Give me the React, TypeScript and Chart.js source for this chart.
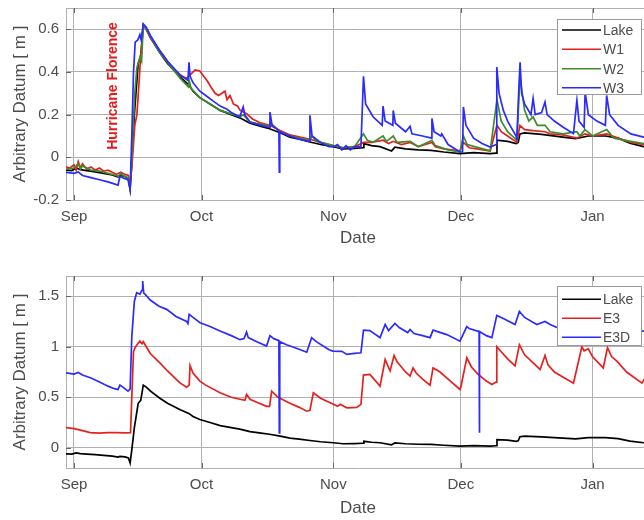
import React, { useEffect, useRef } from "react";
import { Chart, registerables } from "chart.js";

Chart.register(...registerables);

type Pt = [number, number];

// x = days since 1 September
const MONTH_DAYS = [0, 30, 61, 91, 122];
const MONTH_LABELS = ["Sep", "Oct", "Nov", "Dec", "Jan"];
const TOP_Y_TICKS = [-0.2, 0, 0.2, 0.4, 0.6];
const BOTTOM_Y_TICKS = [0, 0.5, 1, 1.5];
const TOP_LABELS = ["Lake", "W1", "W2", "W3"];
const BOTTOM_LABELS = ["Lake", "E3", "E3D"];
const Y_TITLE = "Arbitrary Datum [ m ]";
const X_TITLE = "Date";
const ANNOTATION = "Hurricane Florence";

const LAKE: Pt[] = [
  [-1.9, -0.06], [-0.5, -0.062], [0.5, -0.05], [1.5, -0.058], [3, -0.062], [5, -0.068], [7, -0.075],
  [9, -0.083], [10.4, -0.092], [10.8, -0.085], [12, -0.09], [12.8, -0.1], [13.2, -0.15], [13.6, -0.02],
  [14.2, 0.2], [15.1, 0.44], [15.7, 0.47], [16.3, 0.62], [17, 0.6], [18, 0.56], [20.2, 0.49], [22, 0.44],
  [25, 0.376], [27, 0.34], [28, 0.31], [29.6, 0.28], [32, 0.25], [34.4, 0.22], [37, 0.2], [39, 0.185],
  [41.4, 0.16], [44, 0.145], [46, 0.134], [48.5, 0.115], [50.8, 0.095], [53, 0.085], [55.5, 0.072],
  [58, 0.06], [61, 0.05], [63.3, 0.04], [66, 0.042], [68, 0.045], [68.2, 0.064], [70, 0.055], [72, 0.05],
  [74.7, 0.03], [75.5, 0.048], [78, 0.04], [81, 0.035], [84, 0.033], [87, 0.025], [90.8, 0.017],
  [94, 0.022], [97.9, 0.017], [99.3, 0.02], [99.5, 0.08], [102, 0.075], [104, 0.064], [104.5, 0.07],
  [104.9, 0.11], [106, 0.115], [110, 0.108], [115, 0.095], [118, 0.088], [121, 0.1], [125, 0.1],
  [128, 0.09], [130.8, 0.066], [134, 0.05], [136, 0.045],
];

const W1: Pt[] = [
  [-1.9, -0.045], [-1, -0.05], [0, -0.035], [0.5, -0.06], [1, -0.02], [1.5, -0.05], [2, -0.03],
  [3, -0.055], [4, -0.045], [5, -0.06], [6, -0.05], [7, -0.065], [8, -0.06], [9, -0.07], [10, -0.08],
  [10.5, -0.075], [11, -0.07], [12, -0.08], [12.8, -0.085], [13.2, -0.13], [13.6, -0.05], [14.3, 0.15],
  [14.8, 0.2], [15.3, 0.35], [15.6, 0.45], [16.3, 0.62], [17, 0.6], [18, 0.56], [20.2, 0.5], [22, 0.45],
  [24, 0.4], [25.5, 0.38], [26.5, 0.37], [27.5, 0.39], [28.5, 0.41], [29.6, 0.405], [30.5, 0.38],
  [31.3, 0.36], [32.2, 0.33], [33.2, 0.3], [34, 0.29], [35.5, 0.31], [36, 0.27], [36.7, 0.29],
  [37.5, 0.25], [38.5, 0.24], [39.1, 0.22], [40.6, 0.205], [42, 0.18], [44, 0.16], [46.1, 0.15],
  [48, 0.13], [50.8, 0.105], [55.5, 0.085], [58, 0.07], [61, 0.055], [63.3, 0.045], [66, 0.05],
  [68.1, 0.07], [70, 0.07], [72.7, 0.08], [74, 0.065], [75.1, 0.075], [77, 0.06], [79.1, 0.07],
  [81, 0.05], [84.2, 0.07], [85, 0.05], [87, 0.04], [90.8, 0.03], [91.6, 0.07], [93, 0.045],
  [97.9, 0.03], [99.5, 0.15], [100.5, 0.12], [102, 0.1], [104.2, 0.07], [104.9, 0.15], [106, 0.13],
  [108, 0.125], [110.8, 0.12], [112, 0.11], [115, 0.105], [118.3, 0.09], [120.2, 0.11], [122, 0.1],
  [125.3, 0.11], [128, 0.09], [131, 0.07], [134, 0.06], [136, 0.055],
];

const W2: Pt[] = [
  [-1.9, -0.055], [0, -0.05], [1, -0.03], [1.5, -0.055], [2, -0.04], [4, -0.06], [6, -0.065],
  [8, -0.075], [10, -0.085], [10.5, -0.09], [11, -0.075], [11.5, -0.085], [12.7, -0.095], [13.2, -0.14],
  [13.6, 0], [14.3, 0.3], [14.8, 0.42], [15.5, 0.47], [15.9, 0.45], [16.3, 0.62], [17, 0.6],
  [20.2, 0.49], [25, 0.37], [26.9, 0.33], [27.1, 0.36], [27.5, 0.325], [29.6, 0.28], [34.4, 0.22],
  [39.1, 0.19], [39.8, 0.2], [41.4, 0.165], [46.1, 0.145], [46.3, 0.16], [48.5, 0.12], [50.8, 0.1],
  [55.5, 0.08], [56, 0.1], [57, 0.075], [61, 0.055], [63.3, 0.045], [66, 0.05], [68.1, 0.11],
  [69, 0.08], [70.3, 0.07], [72.7, 0.1], [73.5, 0.075], [75.1, 0.1], [76, 0.07], [79.1, 0.075],
  [81, 0.05], [84.2, 0.08], [85, 0.055], [88, 0.035], [90.8, 0.025], [91.6, 0.1], [92.5, 0.06],
  [97.9, 0.03], [99.5, 0.27], [100.5, 0.17], [102, 0.12], [104.2, 0.08], [104.9, 0.38], [106, 0.22],
  [107, 0.17], [108, 0.19], [109, 0.15], [110.8, 0.15], [112, 0.12], [115, 0.11], [118.3, 0.12],
  [119, 0.1], [120.2, 0.13], [122, 0.1], [125.3, 0.13], [127, 0.09], [131, 0.075], [134, 0.065],
  [136, 0.06],
];

const W3: Pt[] = [
  [-1.9, -0.07], [0, -0.075], [1, -0.068], [2, -0.085], [4, -0.095], [6, -0.105], [8, -0.115],
  [10.35, -0.13], [10.8, -0.09], [12, -0.1], [12.7, -0.105], [13.2, -0.15], [13.6, 0.1], [14, 0.4],
  [14.4, 0.54], [15, 0.55], [15.5, 0.575], [15.8, 0.55], [16.3, 0.625], [17, 0.61], [18, 0.57],
  [20.2, 0.5], [22, 0.45], [25, 0.385], [26.8, 0.36], [27.06, 0.445], [27.3, 0.38], [28, 0.35],
  [29.6, 0.31], [31, 0.29], [33, 0.26], [34.4, 0.24], [36, 0.225], [37, 0.21], [39, 0.19],
  [39.8, 0.236], [40.2, 0.2], [41.4, 0.165], [44, 0.15], [46, 0.14], [46.1, 0.212], [46.6, 0.15],
  [48.2, 0.125], [48.3, -0.069], [48.4, 0.12], [50.8, 0.1], [53, 0.085], [55.3, 0.075], [55.5, 0.197],
  [56, 0.1], [58, 0.07], [60, 0.05], [61, 0.05], [62, 0.06], [63, 0.035], [64, 0.055], [65, 0.035],
  [66, 0.05], [67.5, 0.05], [68.1, 0.38], [68.6, 0.25], [70.35, 0.19], [72.5, 0.15], [72.7, 0.24],
  [73.2, 0.17], [75, 0.15], [75.1, 0.22], [75.6, 0.16], [78, 0.12], [79.06, 0.145], [79.5, 0.11],
  [82, 0.1], [84.1, 0.09], [84.2, 0.182], [84.7, 0.12], [86.3, 0.1], [86.5, 0.11], [88, 0.06],
  [90.8, 0.025], [91.4, 0.025], [91.6, 0.236], [92.2, 0.15], [94, 0.09], [96, 0.065], [97.9, 0.048],
  [99.3, 0.06], [99.46, 0.423], [100, 0.3], [101, 0.22], [102, 0.17], [104, 0.1], [104.16, 0.08],
  [104.6, 0.3], [104.94, 0.446], [105.3, 0.3], [106, 0.25], [107.5, 0.2], [108, 0.276], [108.5, 0.2],
  [110, 0.21], [110.8, 0.259], [111.3, 0.2], [113, 0.17], [115, 0.142], [117.5, 0.111], [118.3, 0.267],
  [118.8, 0.17], [120, 0.14], [120.24, 0.306], [121, 0.2], [123, 0.17], [125, 0.15], [125.3, 0.29],
  [126, 0.2], [128, 0.15], [131, 0.11], [134, 0.095], [136, 0.09],
];

const E3: Pt[] = [
  [-1.9, 0.2], [0, 0.19], [2, 0.17], [3.8, 0.15], [6, 0.145], [8, 0.15], [10, 0.15], [12, 0.148],
  [13.3, 0.15], [13.6, 0.5], [14, 0.95], [14.35, 0.99], [15, 1.03], [15.5, 1.055], [16, 1.03],
  [16.3, 1.05], [17, 1.0], [18, 0.93], [20.2, 0.84], [22, 0.76], [24, 0.68], [25, 0.64], [26.5, 0.6],
  [27.1, 0.62], [27.3, 0.815], [28, 0.74], [29.6, 0.66], [31, 0.62], [34.35, 0.545], [37, 0.5],
  [39.06, 0.48], [40.2, 0.47], [40.6, 0.528], [41.4, 0.48], [43, 0.45], [45.3, 0.41], [46, 0.41],
  [46.5, 0.56], [48, 0.5], [50.8, 0.44], [53, 0.4], [54.75, 0.362], [55.5, 0.37], [56.3, 0.545],
  [58, 0.49], [60, 0.45], [61, 0.43], [62, 0.41], [62.6, 0.43], [64.2, 0.396], [66.5, 0.4],
  [67.5, 0.43], [68.1, 0.72], [69.6, 0.726], [72, 0.61], [73.2, 0.874], [74.35, 0.76], [75.3, 0.914],
  [76, 0.85], [78, 0.75], [79.06, 0.71], [79.76, 0.79], [80.5, 0.74], [82, 0.68], [83.76, 0.62],
  [84.47, 0.79], [86.1, 0.75], [88, 0.68], [90.8, 0.577], [91, 0.6], [92.4, 0.89], [93.5, 0.8],
  [95, 0.73], [97, 0.66], [98.3, 0.627], [99.3, 0.65], [99.46, 1.0], [100.5, 0.95], [102, 0.88],
  [103.76, 0.81], [104.78, 1.02], [106, 0.92], [108, 0.84], [109.65, 0.775], [110.8, 0.914],
  [111.5, 0.82], [113, 0.75], [115, 0.7], [117.5, 0.64], [119.46, 1.0], [120, 0.96], [121, 0.98],
  [122, 0.9], [124.5, 0.79], [125.5, 0.99], [126.5, 0.9], [127.7, 0.857], [130, 0.75], [133.6, 0.64],
  [134.5, 0.7], [136, 0.8],
];

const E3D: Pt[] = [
  [-1.9, 0.742], [0, 0.73], [1, 0.745], [2, 0.72], [4, 0.69], [6, 0.65], [8, 0.61], [9.5, 0.585],
  [10.35, 0.577], [10.8, 0.62], [11.5, 0.6], [12.7, 0.56], [13.2, 0.58], [13.6, 1.1], [14.2, 1.45],
  [14.75, 1.535], [15.5, 1.52], [16, 1.56], [16.16, 1.65], [16.4, 1.53], [16.7, 1.52], [18, 1.46],
  [20, 1.4], [21.8, 1.37], [24, 1.3], [26.5, 1.25], [26.8, 1.23], [27.1, 1.32], [28, 1.29],
  [29.65, 1.238], [32, 1.2], [34.35, 1.155], [37, 1.11], [39.06, 1.07], [40, 1.08], [40.6, 1.145],
  [41, 1.09], [43, 1.05], [45.3, 1.006], [46.1, 1.11], [47, 1.08], [48.2, 1.06], [48.3, 0.148],
  [48.4, 1.05], [50, 1.02], [52, 0.99], [54.75, 0.946], [55.9, 1.09], [57, 1.05], [60, 0.97],
  [60.9, 0.957], [63, 0.955], [64.2, 0.924], [66, 0.935], [67.5, 0.94], [68.1, 1.165], [69.6, 1.16],
  [72, 1.09], [73.2, 1.22], [74, 1.16], [75.5, 1.23], [76.5, 1.19], [78.5, 1.14], [79.06, 1.17],
  [80, 1.13], [82, 1.11], [83.76, 1.09], [84.47, 1.165], [85.5, 1.15], [87.7, 1.12], [90.8, 1.055],
  [92.4, 1.2], [93, 1.18], [95.3, 1.15], [95.36, 0.148], [95.42, 1.15], [97, 1.11], [98.3, 1.09],
  [99.46, 1.31], [101, 1.28], [103.76, 1.22], [104.78, 1.35], [106, 1.29], [108.87, 1.22],
  [110.8, 1.25], [112, 1.22], [113.6, 1.19], [115, 1.17], [117.5, 1.13], [119.5, 1.3], [121, 1.25],
  [124, 1.18], [125.5, 1.28], [128, 1.2], [131, 1.16], [134, 1.155], [136, 1.15],
];

const X_MIN = -1.88;
const X_MAX = 135.5;
const FONT = "'Liberation Sans', Arial, Helvetica, sans-serif";
const TEXT = "#4d4d4d";
const GRID = "#b0b0b0";
const COL_LAKE = "#000000";
const COL_RED = "#e5201e";
const COL_GREEN = "#3e8c2c";
const COL_BLUE = "#2b2bff";

type PanelProps = {
  series: Pt[][];
  labels: string[];
  colors: string[];
  yMin: number;
  yMax: number;
  yTicks: number[];
  padTop: number;
  xAxisHeight: number;
  titlePadBottom: number;
  legendBox: [number, number, number, number];
  legendRows: number[];
  annotation?: boolean;
};

function Panel(p: PanelProps) {
  const ref = useRef<HTMLCanvasElement | null>(null);
  useEffect(() => {
    if (!ref.current) return;
    const n = p.series.length;
    const datasets = p.series.map((s, i) => ({
      label: p.labels[i],
      data: s.map(([x, y]) => ({ x, y })),
      borderColor: p.colors[i],
      backgroundColor: p.colors[i],
      borderWidth: 1.7,
      pointRadius: 0,
      tension: 0,
      fill: false,
      order: n - 1 - i,
    }));
    const overlay = {
      id: "overlay",
      afterDatasetsDraw(chart: any) {
        const { ctx, chartArea: a } = chart;
        ctx.save();
        // top frame line
        ctx.strokeStyle = GRID;
        ctx.lineWidth = 1;
        ctx.beginPath();
        ctx.moveTo(a.left, Math.round(a.top) + 0.5);
        ctx.lineTo(a.right, Math.round(a.top) + 0.5);
        ctx.stroke();
        // inward tick marks
        ctx.strokeStyle = "#666";
        const ys = chart.scales.y;
        p.yTicks.forEach((v) => {
          const py = Math.round(ys.getPixelForValue(v)) + 0.5;
          ctx.beginPath();
          ctx.moveTo(a.left, py);
          ctx.lineTo(a.left + 5, py);
          ctx.stroke();
        });
        const xs = chart.scales.x;
        MONTH_DAYS.forEach((v) => {
          const px = Math.round(xs.getPixelForValue(v)) + 0.5;
          ctx.beginPath();
          ctx.moveTo(px, a.bottom);
          ctx.lineTo(px, a.bottom - 5);
          ctx.moveTo(px, a.top);
          ctx.lineTo(px, a.top + 5);
          ctx.stroke();
        });
        // legend
        const [lx, ly, lw, lh] = p.legendBox;
        ctx.fillStyle = "#ffffff";
        ctx.fillRect(lx, ly, lw, lh);
        ctx.strokeStyle = "#9a9a9a";
        ctx.lineWidth = 1;
        ctx.strokeRect(lx + 0.5, ly + 0.5, lw, lh);
        ctx.font = `14px ${FONT}`;
        ctx.textBaseline = "middle";
        ctx.textAlign = "left";
        p.labels.forEach((lab, i) => {
          const ry = p.legendRows[i];
          ctx.strokeStyle = p.colors[i];
          ctx.lineWidth = 1.5;
          ctx.beginPath();
          ctx.moveTo(lx + 5, ry);
          ctx.lineTo(lx + 44, ry);
          ctx.stroke();
          ctx.fillStyle = TEXT;
          ctx.fillText(lab, lx + 46, ry + 1);
        });
        if (p.annotation) {
          ctx.translate(113, 86);
          ctx.rotate(-Math.PI / 2);
          ctx.font = `bold 14px ${FONT}`;
          ctx.fillStyle = "#e8191b";
          ctx.textAlign = "center";
          ctx.textBaseline = "middle";
          ctx.fillText(ANNOTATION, 0, 0);
        }
        ctx.restore();
      },
    };
    const chart = new Chart(ref.current, {
      type: "line",
      data: { datasets },
      plugins: [overlay],
      options: {
        responsive: false,
        animation: false,
        events: [],
        layout: { padding: { top: p.padTop, left: 0, right: 10, bottom: 0 } },
        plugins: { legend: { display: false }, tooltip: { enabled: false } },
        scales: {
          x: {
            type: "linear",
            min: X_MIN,
            max: X_MAX,
            afterBuildTicks: (s: any) => {
              s.ticks = MONTH_DAYS.map((v) => ({ value: v }));
            },
            afterFit: (s: any) => {
              s.height = p.xAxisHeight;
              s.paddingLeft = 0;
              s.paddingRight = 0;
            },
            ticks: {
              autoSkip: false,
              maxRotation: 0,
              padding: 8,
              color: TEXT,
              font: { family: FONT, size: 15 },
              callback: (_v: any, i: number) => MONTH_LABELS[i],
            },
            grid: { color: GRID, lineWidth: 1, drawTicks: false },
            border: { color: GRID, width: 1 },
            title: {
              display: true,
              text: X_TITLE,
              color: TEXT,
              font: { family: FONT, size: 17 },
              padding: { top: 0, bottom: p.titlePadBottom },
            },
          },
          y: {
            type: "linear",
            min: p.yMin,
            max: p.yMax,
            afterBuildTicks: (s: any) => {
              s.ticks = p.yTicks.map((v) => ({ value: v }));
            },
            afterFit: (s: any) => {
              s.width = 66;
              s.paddingTop = 0;
              s.paddingBottom = 0;
            },
            ticks: {
              padding: 7,
              color: TEXT,
              font: { family: FONT, size: 15 },
              callback: (v: any) => String(v),
            },
            grid: { color: GRID, lineWidth: 1, drawTicks: false },
            border: { color: GRID, width: 1 },
            title: {
              display: true,
              text: Y_TITLE,
              color: TEXT,
              font: { family: FONT, size: 17 },
              padding: { top: 10, bottom: 0 },
            },
          },
        },
      } as any,
    });
    return () => chart.destroy();
  }, []);
  return <canvas ref={ref} width={660} height={260} style={{ display: "block" }} />;
}

export default function App() {
  return (
    <div
      style={{
        position: "fixed",
        left: 0,
        top: 0,
        width: 644,
        height: 520,
        overflow: "hidden",
        background: "#fff",
      }}
    >
      <div style={{ position: "absolute", left: 0, top: 0 }}>
        <Panel
          series={[LAKE, W1, W2, W3]}
          labels={TOP_LABELS}
          colors={[COL_LAKE, COL_RED, COL_GREEN, COL_BLUE]}
          yMin={-0.2}
          yMax={0.7}
          yTicks={TOP_Y_TICKS}
          padTop={8}
          xAxisHeight={60}
          titlePadBottom={11}
          legendBox={[557, 19, 84, 75]}
          legendRows={[30, 49.3, 68.7, 87.7]}
          annotation
        />
      </div>
      <div style={{ position: "absolute", left: 0, top: 260 }}>
        <Panel
          series={[LAKE, E3, E3D]}
          labels={BOTTOM_LABELS}
          colors={[COL_LAKE, COL_RED, COL_BLUE]}
          yMin={-0.2}
          yMax={1.7}
          yTicks={BOTTOM_Y_TICKS}
          padTop={16}
          xAxisHeight={52}
          titlePadBottom={1}
          legendBox={[557, 26, 84, 59]}
          legendRows={[39.3, 58.3, 77.3]}
        />
      </div>
    </div>
  );
}
